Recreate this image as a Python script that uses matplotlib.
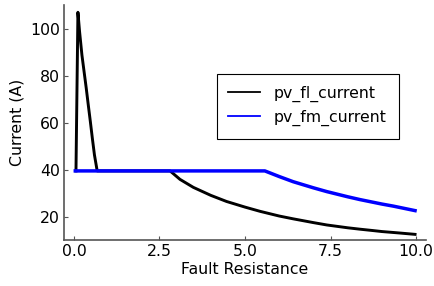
import matplotlib
matplotlib.use("Agg")
import matplotlib.pyplot as plt
from matplotlib.patches import Rectangle

fl_x = [0.06, 0.117, 0.165, 0.234, 0.30, 0.36, 0.42, 0.48, 0.54, 0.60, 0.68, 1.60, 2.81,
        3.10, 3.49, 4.00, 4.46, 5.00, 5.44, 6.00, 6.41, 7.00, 7.39, 8.00, 8.36, 8.75,
        9.00, 9.50, 9.97]
fl_y = [39.6, 107.1, 98.9, 88.9, 81.5, 74.8, 67.6, 60.6, 53.3, 46.4, 39.6, 39.6, 39.6,
        36.0, 32.6, 29.2, 26.6, 24.2, 22.4, 20.4, 19.2, 17.6, 16.6, 15.4, 14.8, 14.2,
        13.8, 13.2, 12.6]

fm_x = [0.04, 5.58, 6.00, 6.41, 7.00, 7.39, 8.00, 8.36, 9.00, 9.34, 9.97]
fm_y = [39.6, 39.6, 37.2, 35.0, 32.4, 30.8, 28.6, 27.4, 25.5, 24.6, 22.7]

labels = ["pv_fl_current", "pv_fm_current"]
xticks = [0.0, 2.5, 5.0, 7.5, 10.0]
xticklabels = ["0.0", "2.5", "5.0", "7.5", "10.0"]
yticks = [20, 40, 60, 80, 100]

W, H = 435, 286
fig = plt.figure(figsize=(W / 100, H / 100), dpi=100)
ax = fig.add_axes([64 / W, 1 - 240 / H, (426 - 64) / W, (240 - 5) / H])

ax.plot(fl_x, fl_y, color="black", lw=2.1, label=labels[0], solid_joinstyle="round")
ax.plot(fm_x, fm_y, color="#0000ff", lw=2.5, label=labels[1], solid_joinstyle="round")

ax.set_xlim(-0.29, 10.29)
ax.set_ylim(10.2, 110.2)
ax.set_xticks(xticks)
ax.set_xticklabels(xticklabels)
ax.set_yticks(yticks)
for s in ["top", "right"]:
    ax.spines[s].set_visible(False)
for s in ["left", "bottom"]:
    ax.spines[s].set_color("#555555")
    ax.spines[s].set_linewidth(1.2)
ax.tick_params(direction="in", length=3, width=0.8, color="#555555",
               labelsize=11.3, pad=3, labelcolor="black")
ax.set_xlabel("Fault Resistance", fontsize=11.3, labelpad=2)
ax.set_ylabel("Current (A)", fontsize=11.3, labelpad=4)

h1 = plt.Line2D([], [], color="black", lw=1.3)
h2 = plt.Line2D([], [], color="#0000ff", lw=1.3)
leg = ax.legend([h1, h2], labels, loc="upper left",
                bbox_to_anchor=(216.7 / W, 1 - 74 / H), bbox_transform=fig.transFigure,
                fontsize=11.3, frameon=False, borderaxespad=0,
                handlelength=2.05, handletextpad=0.83, borderpad=0.72, labelspacing=0.52)
fig.patches.append(Rectangle((216.7 / W, 1 - 139 / H), (399.3 - 216.7) / W, (139 - 74) / H,
                             transform=fig.transFigure, fill=False, edgecolor="black",
                             linewidth=0.8, zorder=5))

fig.savefig("out.png", dpi=100)
